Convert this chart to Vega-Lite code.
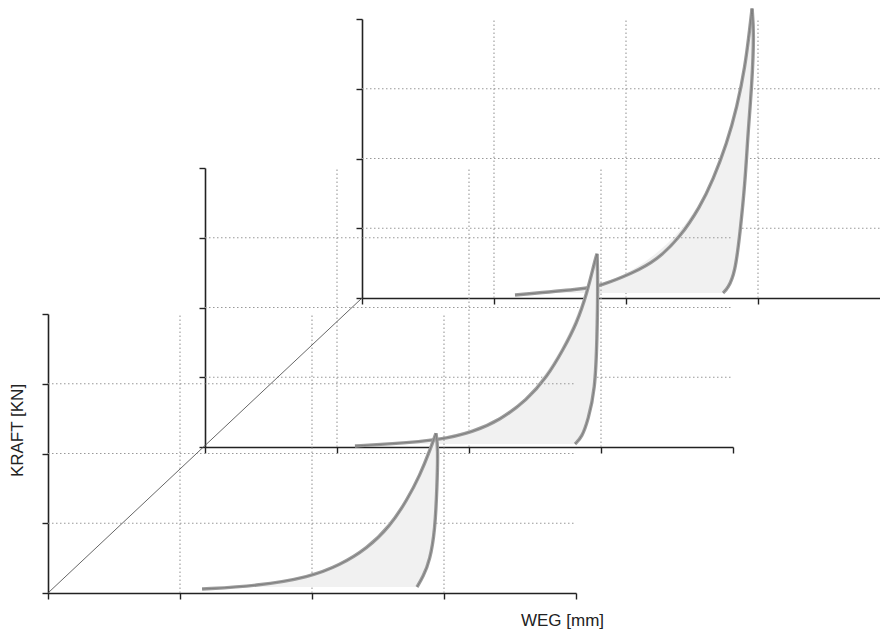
{
  "$schema": "https://vega.github.io/schema/vega-lite/v6.json",
  "width": 528,
  "height": 279,
  "autosize": {"type": "none"},
  "padding": {"left": 48, "top": 314, "right": 304, "bottom": 42},
  "background": "white",
  "config": {
    "view": {"stroke": null},
    "axis": {
      "labels": false, "grid": false, "tickSize": 6, "tickColor": "#222", "tickWidth": 1.4,
      "domainColor": "#222", "domainWidth": 1.6,
      "titleFont": "Liberation Sans", "titleFontWeight": "normal", "titleFontSize": 17, "titleColor": "#222"
    }
  },
  "datasets": {
    "grid": [
      {"x": 1, "y": 0, "x2": 1, "y2": 4},
      {"x": 2, "y": 0, "x2": 2, "y2": 4},
      {"x": 3, "y": 0, "x2": 3, "y2": 4},
      {"x": 0, "y": 1, "x2": 4, "y2": 1},
      {"x": 0, "y": 2, "x2": 4, "y2": 2},
      {"x": 0, "y": 3, "x2": 4, "y2": 3}
    ],
    "diag": [{"x": 0, "y": 0, "x2": 2.379, "y2": 4.229}],
    "curves": [
      {"panel": 1, "branch": "load", "seq": 1, "x": 1.167, "y": 0.057},
      {"panel": 1, "branch": "load", "seq": 2, "x": 1.583, "y": 0.100},
      {"panel": 1, "branch": "load", "seq": 3, "x": 1.985, "y": 0.229},
      {"panel": 1, "branch": "load", "seq": 4, "x": 2.212, "y": 0.401},
      {"panel": 1, "branch": "load", "seq": 5, "x": 2.417, "y": 0.636},
      {"panel": 1, "branch": "load", "seq": 6, "x": 2.591, "y": 0.956},
      {"panel": 1, "branch": "load", "seq": 7, "x": 2.720, "y": 1.333},
      {"panel": 1, "branch": "load", "seq": 8, "x": 2.818, "y": 1.690},
      {"panel": 1, "branch": "load", "seq": 9, "x": 2.894, "y": 2.050},
      {"panel": 1, "branch": "load", "seq": 10, "x": 2.939, "y": 2.290},
      {"panel": 1, "branch": "unload", "seq": 1, "x": 2.939, "y": 2.290},
      {"panel": 1, "branch": "unload", "seq": 2, "x": 2.955, "y": 2.093},
      {"panel": 1, "branch": "unload", "seq": 3, "x": 2.947, "y": 1.520},
      {"panel": 1, "branch": "unload", "seq": 4, "x": 2.932, "y": 0.903},
      {"panel": 1, "branch": "unload", "seq": 5, "x": 2.894, "y": 0.473},
      {"panel": 1, "branch": "unload", "seq": 6, "x": 2.841, "y": 0.229},
      {"panel": 1, "branch": "unload", "seq": 7, "x": 2.795, "y": 0.086},
      {"panel": 2, "branch": "load", "seq": 1, "x": 1.136, "y": 0.014},
      {"panel": 2, "branch": "load", "seq": 2, "x": 1.402, "y": 0.045},
      {"panel": 2, "branch": "load", "seq": 3, "x": 1.780, "y": 0.100},
      {"panel": 2, "branch": "load", "seq": 4, "x": 2.030, "y": 0.215},
      {"panel": 2, "branch": "load", "seq": 5, "x": 2.235, "y": 0.387},
      {"panel": 2, "branch": "load", "seq": 6, "x": 2.439, "y": 0.674},
      {"panel": 2, "branch": "load", "seq": 7, "x": 2.591, "y": 1.004},
      {"panel": 2, "branch": "load", "seq": 8, "x": 2.712, "y": 1.391},
      {"panel": 2, "branch": "load", "seq": 9, "x": 2.818, "y": 1.778},
      {"panel": 2, "branch": "load", "seq": 10, "x": 2.894, "y": 2.208},
      {"panel": 2, "branch": "load", "seq": 11, "x": 2.955, "y": 2.681},
      {"panel": 2, "branch": "load", "seq": 12, "x": 2.970, "y": 2.770},
      {"panel": 2, "branch": "unload", "seq": 1, "x": 2.970, "y": 2.770},
      {"panel": 2, "branch": "unload", "seq": 2, "x": 2.977, "y": 2.394},
      {"panel": 2, "branch": "unload", "seq": 3, "x": 2.970, "y": 1.534},
      {"panel": 2, "branch": "unload", "seq": 4, "x": 2.955, "y": 0.817},
      {"panel": 2, "branch": "unload", "seq": 5, "x": 2.902, "y": 0.387},
      {"panel": 2, "branch": "unload", "seq": 6, "x": 2.856, "y": 0.143},
      {"panel": 2, "branch": "unload", "seq": 7, "x": 2.803, "y": 0.043},
      {"panel": 3, "branch": "load", "seq": 1, "x": 1.159, "y": 0.043},
      {"panel": 3, "branch": "load", "seq": 2, "x": 1.674, "y": 0.129},
      {"panel": 3, "branch": "load", "seq": 3, "x": 1.803, "y": 0.172},
      {"panel": 3, "branch": "load", "seq": 4, "x": 2.053, "y": 0.358},
      {"panel": 3, "branch": "load", "seq": 5, "x": 2.235, "y": 0.545},
      {"panel": 3, "branch": "load", "seq": 6, "x": 2.409, "y": 0.870},
      {"panel": 3, "branch": "load", "seq": 7, "x": 2.561, "y": 1.305},
      {"panel": 3, "branch": "load", "seq": 8, "x": 2.659, "y": 1.692},
      {"panel": 3, "branch": "load", "seq": 9, "x": 2.765, "y": 2.222},
      {"panel": 3, "branch": "load", "seq": 10, "x": 2.841, "y": 2.738},
      {"panel": 3, "branch": "load", "seq": 11, "x": 2.902, "y": 3.312},
      {"panel": 3, "branch": "load", "seq": 12, "x": 2.939, "y": 3.885},
      {"panel": 3, "branch": "load", "seq": 13, "x": 2.955, "y": 4.150},
      {"panel": 3, "branch": "unload", "seq": 1, "x": 2.955, "y": 4.150},
      {"panel": 3, "branch": "unload", "seq": 2, "x": 2.970, "y": 3.799},
      {"panel": 3, "branch": "unload", "seq": 3, "x": 2.955, "y": 3.082},
      {"panel": 3, "branch": "unload", "seq": 4, "x": 2.924, "y": 2.366},
      {"panel": 3, "branch": "unload", "seq": 5, "x": 2.902, "y": 1.649},
      {"panel": 3, "branch": "unload", "seq": 6, "x": 2.864, "y": 0.932},
      {"panel": 3, "branch": "unload", "seq": 7, "x": 2.826, "y": 0.358},
      {"panel": 3, "branch": "unload", "seq": 8, "x": 2.773, "y": 0.143},
      {"panel": 3, "branch": "unload", "seq": 9, "x": 2.735, "y": 0.072}
    ],
    "fill": [
      {"panel": 1, "y": 0.086, "xl": 1.45, "xr": 2.795},
      {"panel": 1, "y": 0.229, "xl": 1.985, "xr": 2.841},
      {"panel": 1, "y": 0.473, "xl": 2.28, "xr": 2.894},
      {"panel": 1, "y": 0.903, "xl": 2.560, "xr": 2.932},
      {"panel": 1, "y": 1.52, "xl": 2.770, "xr": 2.947},
      {"panel": 1, "y": 2.093, "xl": 2.902, "xr": 2.955},
      {"panel": 1, "y": 2.29, "xl": 2.939, "xr": 2.939},
      {"panel": 2, "y": 0.043, "xl": 1.40, "xr": 2.803},
      {"panel": 2, "y": 0.143, "xl": 1.873, "xr": 2.856},
      {"panel": 2, "y": 0.387, "xl": 2.235, "xr": 2.902},
      {"panel": 2, "y": 0.817, "xl": 2.505, "xr": 2.955},
      {"panel": 2, "y": 1.534, "xl": 2.751, "xr": 2.970},
      {"panel": 2, "y": 2.394, "xl": 2.918, "xr": 2.977},
      {"panel": 2, "y": 2.77, "xl": 2.970, "xr": 2.970},
      {"panel": 3, "y": 0.072, "xl": 1.33, "xr": 2.735},
      {"panel": 3, "y": 0.143, "xl": 1.72, "xr": 2.773},
      {"panel": 3, "y": 0.358, "xl": 2.053, "xr": 2.826},
      {"panel": 3, "y": 0.932, "xl": 2.430, "xr": 2.864},
      {"panel": 3, "y": 1.649, "xl": 2.648, "xr": 2.902},
      {"panel": 3, "y": 2.366, "xl": 2.786, "xr": 2.924},
      {"panel": 3, "y": 3.082, "xl": 2.878, "xr": 2.955},
      {"panel": 3, "y": 3.799, "xl": 2.934, "xr": 2.970},
      {"panel": 3, "y": 4.15, "xl": 2.955, "xr": 2.955}
    ]
  },
  "layer": [
    {
      "layer": [
        {
          "data": {"name": "grid"},
          "mark": {"type": "rule", "color": "#999", "strokeDash": [1.5, 2.5], "strokeWidth": 1.1},
          "encoding": {
            "x": {"field": "x", "type": "quantitative", "scale": {"domain": [0, 4], "range": [314, 842], "nice": false, "zero": false}, "axis": {"orient": "bottom", "offset": -295, "values": [0, 1, 2, 3, 4], "title": null}},
            "y": {"field": "y", "type": "quantitative", "scale": {"domain": [0, 4], "range": [-16, -295], "nice": false, "zero": false}, "axis": {"orient": "left", "offset": -314, "values": [0, 1, 2, 3, 4], "title": null}},
            "x2": {"field": "x2"},
            "y2": {"field": "y2"}
          }
        },
        {
          "data": {"name": "fill"},
          "transform": [{"filter": "datum.panel == 3"}],
          "mark": {"type": "area", "orient": "horizontal", "color": "#f1f1f1", "interpolate": "basis"},
          "encoding": {
            "y": {"field": "y", "type": "quantitative", "scale": {"domain": [0, 4], "range": [-16, -295], "nice": false, "zero": false}, "axis": {"orient": "left", "offset": -314, "values": [0, 1, 2, 3, 4], "title": null}},
            "x": {"field": "xl", "type": "quantitative", "scale": {"domain": [0, 4], "range": [314, 842], "nice": false, "zero": false}, "axis": {"orient": "bottom", "offset": -295, "values": [0, 1, 2, 3, 4], "title": null}},
            "x2": {"field": "xr"}
          }
        },
        {
          "data": {"name": "curves"},
          "transform": [{"filter": "datum.panel == 3"}],
          "mark": {"type": "line", "color": "#9c9c9c", "strokeWidth": 3.4, "interpolate": "basis"},
          "encoding": {
            "x": {"field": "x", "type": "quantitative", "scale": {"domain": [0, 4], "range": [314, 842], "nice": false, "zero": false}, "axis": {"orient": "bottom", "offset": -295, "values": [0, 1, 2, 3, 4], "title": null}},
            "y": {"field": "y", "type": "quantitative", "scale": {"domain": [0, 4], "range": [-16, -295], "nice": false, "zero": false}, "axis": {"orient": "left", "offset": -314, "values": [0, 1, 2, 3, 4], "title": null}},
            "detail": {"field": "branch", "type": "nominal"},
            "order": {"field": "seq", "type": "quantitative"}
          }
        },
        {
          "data": {"name": "curves"},
          "transform": [{"filter": "datum.panel == 3"}],
          "mark": {"type": "line", "color": "#6a6a6a", "strokeWidth": 0.9, "opacity": 0.7, "interpolate": "basis"},
          "encoding": {
            "x": {"field": "x", "type": "quantitative", "scale": {"domain": [0, 4], "range": [314, 842], "nice": false, "zero": false}, "axis": {"orient": "bottom", "offset": -295, "values": [0, 1, 2, 3, 4], "title": null}},
            "y": {"field": "y", "type": "quantitative", "scale": {"domain": [0, 4], "range": [-16, -295], "nice": false, "zero": false}, "axis": {"orient": "left", "offset": -314, "values": [0, 1, 2, 3, 4], "title": null}},
            "detail": {"field": "branch", "type": "nominal"},
            "order": {"field": "seq", "type": "quantitative"}
          }
        }
      ]
    },
    {
      "layer": [
        {
          "data": {"name": "grid"},
          "mark": {"type": "rule", "color": "#999", "strokeDash": [1.5, 2.5], "strokeWidth": 1.1},
          "encoding": {
            "x": {"field": "x", "type": "quantitative", "scale": {"domain": [0, 4], "range": [157, 685], "nice": false, "zero": false}, "axis": {"orient": "bottom", "offset": -146, "values": [0, 1, 2, 3, 4], "title": null}},
            "y": {"field": "y", "type": "quantitative", "scale": {"domain": [0, 4], "range": [133, -146], "nice": false, "zero": false}, "axis": {"orient": "left", "offset": -157, "values": [0, 1, 2, 3, 4], "title": null}},
            "x2": {"field": "x2"},
            "y2": {"field": "y2"}
          }
        },
        {
          "data": {"name": "fill"},
          "transform": [{"filter": "datum.panel == 2"}],
          "mark": {"type": "area", "orient": "horizontal", "color": "#f1f1f1", "interpolate": "basis"},
          "encoding": {
            "y": {"field": "y", "type": "quantitative", "scale": {"domain": [0, 4], "range": [133, -146], "nice": false, "zero": false}, "axis": {"orient": "left", "offset": -157, "values": [0, 1, 2, 3, 4], "title": null}},
            "x": {"field": "xl", "type": "quantitative", "scale": {"domain": [0, 4], "range": [157, 685], "nice": false, "zero": false}, "axis": {"orient": "bottom", "offset": -146, "values": [0, 1, 2, 3, 4], "title": null}},
            "x2": {"field": "xr"}
          }
        },
        {
          "data": {"name": "curves"},
          "transform": [{"filter": "datum.panel == 2"}],
          "mark": {"type": "line", "color": "#9c9c9c", "strokeWidth": 3.4, "interpolate": "basis"},
          "encoding": {
            "x": {"field": "x", "type": "quantitative", "scale": {"domain": [0, 4], "range": [157, 685], "nice": false, "zero": false}, "axis": {"orient": "bottom", "offset": -146, "values": [0, 1, 2, 3, 4], "title": null}},
            "y": {"field": "y", "type": "quantitative", "scale": {"domain": [0, 4], "range": [133, -146], "nice": false, "zero": false}, "axis": {"orient": "left", "offset": -157, "values": [0, 1, 2, 3, 4], "title": null}},
            "detail": {"field": "branch", "type": "nominal"},
            "order": {"field": "seq", "type": "quantitative"}
          }
        },
        {
          "data": {"name": "curves"},
          "transform": [{"filter": "datum.panel == 2"}],
          "mark": {"type": "line", "color": "#6a6a6a", "strokeWidth": 0.9, "opacity": 0.7, "interpolate": "basis"},
          "encoding": {
            "x": {"field": "x", "type": "quantitative", "scale": {"domain": [0, 4], "range": [157, 685], "nice": false, "zero": false}, "axis": {"orient": "bottom", "offset": -146, "values": [0, 1, 2, 3, 4], "title": null}},
            "y": {"field": "y", "type": "quantitative", "scale": {"domain": [0, 4], "range": [133, -146], "nice": false, "zero": false}, "axis": {"orient": "left", "offset": -157, "values": [0, 1, 2, 3, 4], "title": null}},
            "detail": {"field": "branch", "type": "nominal"},
            "order": {"field": "seq", "type": "quantitative"}
          }
        }
      ]
    },
    {
      "layer": [
        {
          "data": {"name": "grid"},
          "mark": {"type": "rule", "color": "#999", "strokeDash": [1.5, 2.5], "strokeWidth": 1.1},
          "encoding": {
            "x": {"field": "x", "type": "quantitative", "scale": {"domain": [0, 4], "range": [0, 528], "nice": false, "zero": false}, "axis": {"orient": "bottom", "values": [0, 1, 2, 3, 4], "title": "WEG [mm]", "titleX": 514, "titleAlign": "center", "titlePadding": 13}},
            "y": {"field": "y", "type": "quantitative", "scale": {"domain": [0, 4], "range": [279, 0], "nice": false, "zero": false}, "axis": {"orient": "left", "values": [0, 1, 2, 3, 4], "title": "KRAFT [KN]", "titleY": 116, "titlePadding": 15}},
            "x2": {"field": "x2"},
            "y2": {"field": "y2"}
          }
        },
        {
          "data": {"name": "diag"},
          "mark": {"type": "rule", "color": "#555", "strokeWidth": 0.9},
          "encoding": {
            "x": {"field": "x", "type": "quantitative", "scale": {"domain": [0, 4], "range": [0, 528], "nice": false, "zero": false}, "axis": {"orient": "bottom", "values": [0, 1, 2, 3, 4], "title": "WEG [mm]", "titleX": 514, "titleAlign": "center", "titlePadding": 13}},
            "y": {"field": "y", "type": "quantitative", "scale": {"domain": [0, 4], "range": [279, 0], "nice": false, "zero": false}, "axis": {"orient": "left", "values": [0, 1, 2, 3, 4], "title": "KRAFT [KN]", "titleY": 116, "titlePadding": 15}},
            "x2": {"field": "x2"},
            "y2": {"field": "y2"}
          }
        },
        {
          "data": {"name": "fill"},
          "transform": [{"filter": "datum.panel == 1"}],
          "mark": {"type": "area", "orient": "horizontal", "color": "#f1f1f1", "interpolate": "basis"},
          "encoding": {
            "y": {"field": "y", "type": "quantitative", "scale": {"domain": [0, 4], "range": [279, 0], "nice": false, "zero": false}, "axis": {"orient": "left", "values": [0, 1, 2, 3, 4], "title": "KRAFT [KN]", "titleY": 116, "titlePadding": 15}},
            "x": {"field": "xl", "type": "quantitative", "scale": {"domain": [0, 4], "range": [0, 528], "nice": false, "zero": false}, "axis": {"orient": "bottom", "values": [0, 1, 2, 3, 4], "title": "WEG [mm]", "titleX": 514, "titleAlign": "center", "titlePadding": 13}},
            "x2": {"field": "xr"}
          }
        },
        {
          "data": {"name": "curves"},
          "transform": [{"filter": "datum.panel == 1"}],
          "mark": {"type": "line", "color": "#9c9c9c", "strokeWidth": 3.4, "interpolate": "basis"},
          "encoding": {
            "x": {"field": "x", "type": "quantitative", "scale": {"domain": [0, 4], "range": [0, 528], "nice": false, "zero": false}, "axis": {"orient": "bottom", "values": [0, 1, 2, 3, 4], "title": "WEG [mm]", "titleX": 514, "titleAlign": "center", "titlePadding": 13}},
            "y": {"field": "y", "type": "quantitative", "scale": {"domain": [0, 4], "range": [279, 0], "nice": false, "zero": false}, "axis": {"orient": "left", "values": [0, 1, 2, 3, 4], "title": "KRAFT [KN]", "titleY": 116, "titlePadding": 15}},
            "detail": {"field": "branch", "type": "nominal"},
            "order": {"field": "seq", "type": "quantitative"}
          }
        },
        {
          "data": {"name": "curves"},
          "transform": [{"filter": "datum.panel == 1"}],
          "mark": {"type": "line", "color": "#6a6a6a", "strokeWidth": 0.9, "opacity": 0.7, "interpolate": "basis"},
          "encoding": {
            "x": {"field": "x", "type": "quantitative", "scale": {"domain": [0, 4], "range": [0, 528], "nice": false, "zero": false}, "axis": {"orient": "bottom", "values": [0, 1, 2, 3, 4], "title": "WEG [mm]", "titleX": 514, "titleAlign": "center", "titlePadding": 13}},
            "y": {"field": "y", "type": "quantitative", "scale": {"domain": [0, 4], "range": [279, 0], "nice": false, "zero": false}, "axis": {"orient": "left", "values": [0, 1, 2, 3, 4], "title": "KRAFT [KN]", "titleY": 116, "titlePadding": 15}},
            "detail": {"field": "branch", "type": "nominal"},
            "order": {"field": "seq", "type": "quantitative"}
          }
        }
      ]
    }
  ],
  "resolve": {
    "scale": {"x": "independent", "y": "independent"},
    "axis": {"x": "independent", "y": "independent"}
  }
}
